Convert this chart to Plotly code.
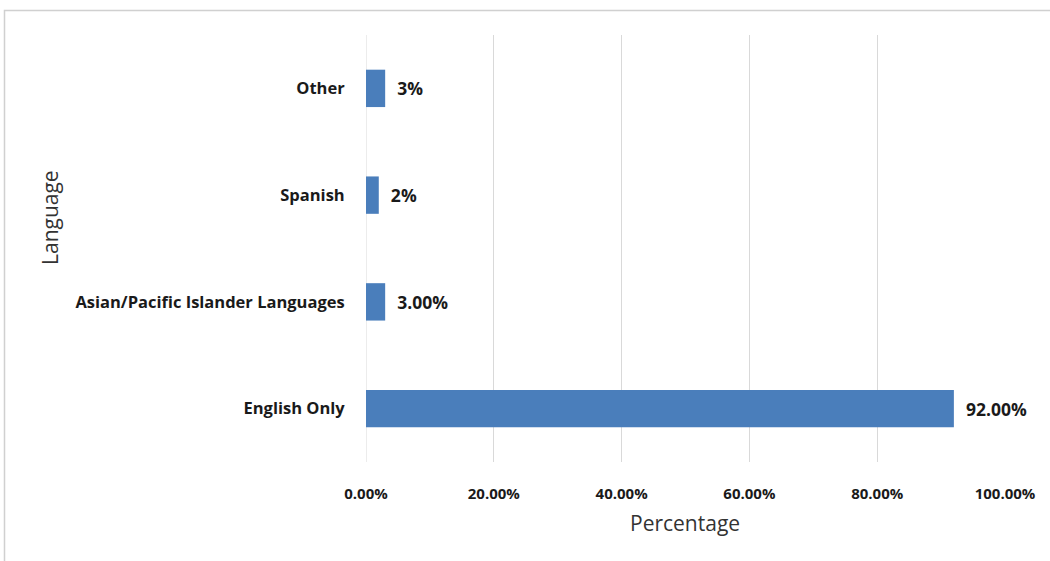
import plotly.graph_objects as go

categories = ["English Only", "Asian/Pacific Islander Languages", "Spanish", "Other"]
values = [0.92, 0.03, 0.02, 0.03]
labels = ["92.00%", "3.00%", "2%", "3%"]
tick_vals = [0, 0.2, 0.4, 0.6, 0.8, 1.0]
tick_text = ["0.00%", "20.00%", "40.00%", "60.00%", "80.00%", "100.00%"]

FONT = "Open Sans"
L, R, T, B = 366, 1005, 35, 462  # plot area in page pixels
pw, ph = R - L, B - T

fig = go.Figure(go.Bar(
    y=categories, x=values, orientation="h",
    marker=dict(color="#4A7EBB", line=dict(color="#4A7EBB", width=0)),
    width=0.35,
    text=["  " + t for t in labels], textposition="outside",
    textfont=dict(family=FONT, size=17.5, color="#1a1a1a", weight="bold"),
    cliponaxis=False,
))

def px(x):
    return (x - L) / pw

def py(y):
    return (B - y) / ph

fig.add_shape(type="rect", xref="paper", yref="paper",
              x0=px(4.5), x1=px(1060), y0=py(600), y1=py(10.5),
              line=dict(color="#d0d0d0", width=1.5), layer="below")
fig.add_shape(type="line", xref="x", yref="paper", x0=0, x1=0, y0=0, y1=1,
              line=dict(color="#d9d9d9", width=1), layer="below")

fig.add_annotation(text="Percentage", xref="paper", yref="paper",
                   x=px(685), y=py(523), showarrow=False,
                   xanchor="center", yanchor="middle",
                   font=dict(family=FONT, size=21, color="#333333"))
fig.add_annotation(text="Language", xref="paper", yref="paper",
                   x=px(50), y=py(218), showarrow=False, textangle=-90,
                   xanchor="center", yanchor="middle",
                   font=dict(family=FONT, size=21, color="#333333"))

fig.update_layout(
    width=1050, height=561,
    margin=dict(l=L, r=1050 - R, t=T, b=561 - B),
    paper_bgcolor="white", plot_bgcolor="white",
    showlegend=False,
    xaxis=dict(range=[0, 1], tickvals=tick_vals, ticktext=tick_text,
               showgrid=True, gridcolor="#d9d9d9", gridwidth=1,
               zeroline=False, showline=False,
               ticks="outside", ticklen=18, tickcolor="rgba(0,0,0,0)",
               tickfont=dict(family=FONT, size=15, color="#1a1a1a", weight="bold")),
    yaxis=dict(showgrid=False, zeroline=False, showline=False,
               ticks="outside", ticklen=17, tickcolor="rgba(0,0,0,0)",
               tickfont=dict(family=FONT, size=16.5, color="#1a1a1a", weight="bold")),
)

fig.write_html("out.html", config={"displayModeBar": False},
               post_script="document.body.style.margin='0';document.body.style.overflow='hidden';")
